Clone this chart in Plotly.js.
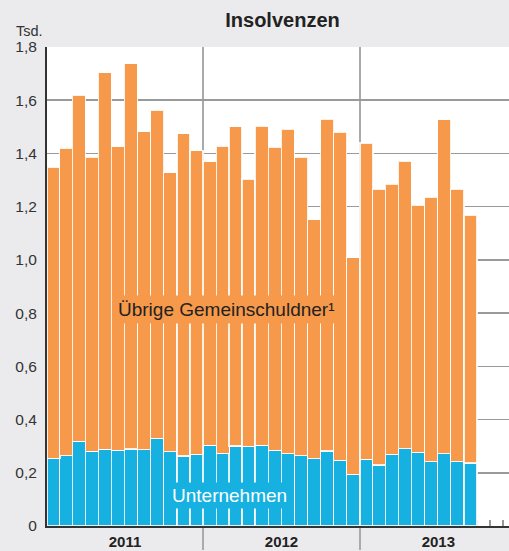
<!DOCTYPE html>
<html>
<head>
<meta charset="utf-8">
<script src="https://cdn.plot.ly/plotly-3.0.1.min.js"></script>
<style>html,body{margin:0;padding:0;background:#ebebed;}#chart{width:509px;height:551px;}</style>
</head>
<body>
<div id="chart"></div>
<script>
var months = [
  '2011-01','2011-02','2011-03','2011-04','2011-05','2011-06','2011-07','2011-08','2011-09','2011-10','2011-11','2011-12',
  '2012-01','2012-02','2012-03','2012-04','2012-05','2012-06','2012-07','2012-08','2012-09','2012-10','2012-11','2012-12',
  '2013-01','2013-02','2013-03','2013-04','2013-05','2013-06','2013-07','2013-08','2013-09'
];
var unternehmen = [
  0.254,0.264,0.318,0.281,0.288,0.284,0.289,0.286,0.330,0.279,0.263,0.269,
  0.303,0.273,0.301,0.299,0.303,0.284,0.271,0.264,0.253,0.282,0.247,0.195,
  0.250,0.229,0.270,0.291,0.277,0.241,0.272,0.241,0.237
];
var uebrige = [
  1.094,1.155,1.300,1.104,1.416,1.141,1.448,1.195,1.232,1.048,1.211,1.141,
  1.066,1.154,1.200,1.005,1.199,1.140,1.221,1.123,0.898,1.246,1.232,0.813,
  1.189,1.037,1.014,1.079,0.928,0.995,1.255,1.024,0.931
];
var yTickVals = [0,0.2,0.4,0.6,0.8,1.0,1.2,1.4,1.6,1.8];
var yTickText = ['0','0,2','0,4','0,6','0,8','1,0','1,2','1,4','1,6','1,8'];
var seriesNames = ['Unternehmen','Übrige Gemeinschuldner¹'];

var BLUE = '#16b1e1', ORANGE = '#f7994a';
var monthWidth = 30.44 * 86400000;

var barLine = {color:'rgba(255,255,255,0.85)', width:1.2};
var traces = [
  {type:'bar', x:months, y:unternehmen, name:'Unternehmen', xperiod:'M1', xperiodalignment:'middle',
   width:monthWidth, marker:{color:BLUE, line:barLine}, hoverinfo:'skip'},
  {type:'bar', x:months, y:uebrige, name:'Übrige', xperiod:'M1', xperiodalignment:'middle',
   width:monthWidth, marker:{color:ORANGE, line:barLine}, hoverinfo:'skip'}
];

var layout = {
  width:509, height:551,
  paper_bgcolor:'#ebebed', plot_bgcolor:'#ffffff',
  margin:{l:47, r:0, t:47, b:25, pad:0},
  barmode:'stack', bargap:0, showlegend:false,
  font:{family:'Liberation Sans, Arial, sans-serif', color:'#333'},
  title:{text:'<b>Insolvenzen</b>', font:{size:20, color:'#222'}, xref:'container', x:0.555, xanchor:'center', yref:'container', y:0.963, yanchor:'middle'},
  xaxis:{
    type:'date', range:['2011-01-01 12:00','2013-12-15'], fixedrange:true,
    tick0:'2011-01-01', dtick:'M12', tickformat:'%Y', ticklabelmode:'period',
    ticks:'outside', ticklen:22, tickwidth:2, tickcolor:'#aaa',
    ticklabelstandoff:-21,
    showgrid:true, gridcolor:'#aaa', gridwidth:2,
    tickfont:{size:15, color:'#222', family:'Liberation Sans, Arial, sans-serif', weight:'bold'},
    showline:true, linecolor:'#333', linewidth:2,
    layer:'below traces',
    minor:{tick0:'2011-01-01', dtick:'M1', ticks:'inside', ticklen:6, tickwidth:1.5, tickcolor:'#999', showgrid:false}
  },
  yaxis:{
    range:[0,1.8], fixedrange:true, tickvals:yTickVals, ticktext:yTickText,
    ticks:'outside', ticklen:5, tickcolor:'rgba(0,0,0,0)',
    showgrid:true, gridcolor:'#9a9a9a', gridwidth:1.5, zeroline:false,
    showline:true, linecolor:'#333', linewidth:2,
    tickfont:{size:15.5, color:'#333'}
  },
  annotations:[
    {text:'Tsd.', xref:'paper', yref:'paper', x:0, y:1, xanchor:'right', yanchor:'bottom', xshift:-2, yshift:6,
     showarrow:false, font:{size:14.5, color:'#333'}},
    {text:seriesNames[1], xref:'paper', yref:'paper', x:0.3896, y:0.453, xanchor:'center', yanchor:'middle',
     showarrow:false, bgcolor:ORANGE, borderpad:3, font:{size:19, color:'#222'}},
    {text:seriesNames[0], xref:'paper', yref:'paper', x:0.396, y:0.063, xanchor:'center', yanchor:'middle',
     showarrow:false, bgcolor:BLUE, borderpad:2, font:{size:19, color:'#ffffff'}}
  ]
};

Plotly.newPlot('chart', traces, layout, {displayModeBar:false, staticPlot:true});
</script>
</body>
</html>
